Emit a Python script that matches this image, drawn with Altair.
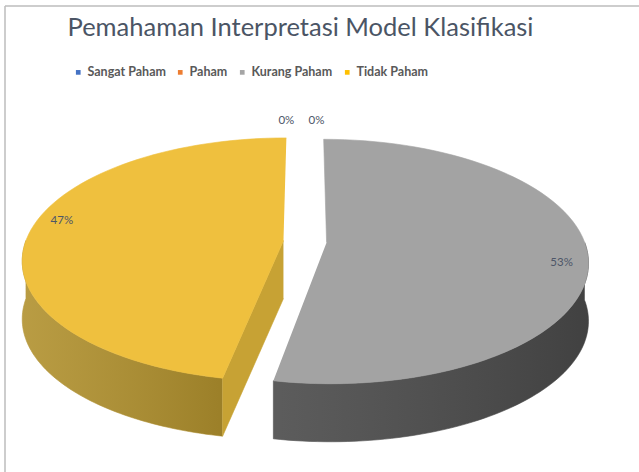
import altair as alt
import pandas as pd

# ---------------- data ----------------
title_text = "Pemahaman Interpretasi Model Klasifikasi"
categories = ["Sangat Paham", "Paham", "Kurang Paham", "Tidak Paham"]
percent_values = [0, 0, 53, 47]

# ---------------- styles ----------------
legend_colors = ["#4472C4", "#ED7D31", "#A5A5A5", "#FFC000"]
top_colors = ["#4472C4", "#ED7D31", "#A3A3A3", "#EFC03E"]
wall_colors = ["#2F5597", "#B45F20", "#4A4A4A", "#B1912E"]
cut_colors = ["#3A63AA", "#C96B26", "#5E5E5E", "#C7A234"]

df = pd.DataFrame({"category": categories, "value": percent_values})

W, H = 639, 472
PAD_TOP = 50
PLOT_H = H - PAD_TOP
PX = 262.0                 # pixels per pie radius
CX, CY = 305.0, 241.5 - PAD_TOP
N = 72                     # arc resolution
EXPLODE = 0.084
PERSP = 0.156
TILT = 0.454
HSCALE = 0.984
DEPTH = 58 / PX
LABEL_SHIFT = 0.09
LABEL_R = 0.9
ZERO_R = 1.12

x_scale = alt.Scale(domain=[-CX / PX, (W - CX) / PX], nice=False, zero=False)
y_scale = alt.Scale(domain=[-(PLOT_H - CY) / PX, CY / PX], nice=False, zero=False)

fill_domain, fill_range = [], []
for face, cols in (("top", top_colors), ("wall", wall_colors), ("cut", cut_colors)):
    for c, col in zip(categories, cols):
        fill_domain.append(f"{face}|{c}")
        fill_range.append(col)
fill_scale = alt.Scale(domain=fill_domain, range=fill_range)

base = (
    alt.Chart(df)
    .transform_window(idx="row_number()")
    .transform_joinaggregate(total="sum(value)")
    .transform_window(cum="sum(value)", frame=[None, 0])
    .transform_calculate(a1="datum.cum / datum.total * 2 * PI")
    .transform_calculate(a0="datum.a1 - datum.value / datum.total * 2 * PI")
    .transform_calculate(mid="(datum.a0 + datum.a1) / 2")
    .transform_calculate(ou=f"{EXPLODE} * sin(datum.mid)")
    .transform_calculate(ov=f"{EXPLODE} * cos(datum.mid)")
)


def project(ch):
    return (
        ch.transform_calculate(u="datum.ou + datum.r * sin(datum.t)")
        .transform_calculate(v="datum.ov + datum.r * cos(datum.t)")
        .transform_calculate(w=f"1 + {PERSP} * datum.v")
        .transform_calculate(X=f"{HSCALE} * datum.u / datum.w")
        .transform_calculate(Y=f"{TILT} * datum.v / datum.w - datum.h")
    )


top = project(
    base.transform_filter("datum.value > 0")
    .transform_calculate(pts=f"sequence(0, {N + 2})")
    .transform_flatten(["pts"])
    .transform_calculate(t=f"datum.pts == 0 ? 0 : datum.a0 + (datum.a1 - datum.a0) * (datum.pts - 1) / {N}")
    .transform_calculate(r="datum.pts == 0 ? 0 : 1")
    .transform_calculate(h="0")
    .transform_calculate(key="'top|' + datum.category")
)

wall = project(
    base.transform_filter("datum.value > 0")
    .transform_calculate(s0="max(datum.a0, PI / 2)")
    .transform_calculate(s1="min(datum.a1, 3 * PI / 2)")
    .transform_filter("datum.s1 > datum.s0 + 0.0001")
    .transform_calculate(pts=f"sequence(0, {2 * N + 2})")
    .transform_flatten(["pts"])
    .transform_calculate(j=f"datum.pts <= {N} ? datum.pts : {2 * N + 1} - datum.pts")
    .transform_calculate(t=f"datum.s0 + (datum.s1 - datum.s0) * datum.j / {N}")
    .transform_calculate(r="1")
    .transform_calculate(h=f"datum.pts <= {N} ? 0 : {DEPTH}")
    .transform_calculate(key="'wall|' + datum.category")
)

cut = project(
    base.transform_filter("datum.value > 0 && (sin(datum.a0) < -0.001 || sin(datum.a1) > 0.001)")
    .transform_calculate(t="sin(datum.a0) < -0.001 ? datum.a0 : datum.a1")
    .transform_calculate(pts="sequence(0, 4)")
    .transform_flatten(["pts"])
    .transform_calculate(r="datum.pts == 1 || datum.pts == 2 ? 1 : 0")
    .transform_calculate(h=f"datum.pts >= 2 ? {DEPTH} : 0")
    .transform_calculate(key="'cut|' + datum.category")
)

xy = dict(
    x=alt.X("X:Q", scale=x_scale, axis=None),
    y=alt.Y("Y:Q", scale=y_scale, axis=None),
    order=alt.Order("pts:Q"),
    detail="category:N",
)


def poly(ch):
    return ch.mark_line(filled=True, strokeWidth=0.6, strokeJoin="round").encode(
        fill=alt.Fill("key:N", scale=fill_scale, legend=None),
        stroke=alt.Stroke("key:N", scale=fill_scale, legend=None),
        **xy,
    )


wall_shade = wall.mark_line(
    filled=True,
    strokeWidth=0,
    fill=alt.Gradient(
        gradient="linear",
        stops=[
            alt.GradientStop(color="rgba(255,255,255,0.10)", offset=0),
            alt.GradientStop(color="rgba(0,0,0,0.12)", offset=1),
        ],
        x1=0, x2=1, y1=0, y2=0,
    ),
).encode(**xy)

labels = (
    project(
        base.transform_calculate(t=f"datum.value == 0 ? datum.mid : datum.mid + {LABEL_SHIFT}")
        .transform_calculate(r=f"datum.value == 0 ? {ZERO_R} : {LABEL_R}")
        .transform_calculate(h="0")
    )
    .transform_calculate(LX="datum.value == 0 ? datum.X + (datum.idx - 1.62) * 0.115 : datum.X")
    .transform_calculate(label="format(datum.value / datum.total, '.0%')")
    .mark_text(font="Lato", fontSize=11.5, color="#4d5668")
    .encode(
        x=alt.X("LX:Q", scale=x_scale, axis=None),
        y=alt.Y("Y:Q", scale=y_scale, axis=None),
        text="label:N",
    )
)

legend_layer = base.mark_square(opacity=0).encode(
    x=alt.value(0),
    y=alt.value(0),
    color=alt.Color(
        "category:N",
        scale=alt.Scale(domain=categories, range=legend_colors),
        legend=alt.Legend(
            title=None, orient="none", legendX=72, legendY=16, direction="horizontal",
            symbolType="square", symbolSize=22, symbolOpacity=1, symbolStrokeWidth=0,
            labelFont="Lato", labelFontSize=12.5, labelFontWeight="bold", labelColor="#595959",
            labelOffset=3, columnPadding=8,
        ),
    ),
)

frame_src = alt.Data(values=[{"k": 1}])
frame_top = alt.Chart(frame_src).mark_rule(color="#BDBDBD", strokeWidth=1.5).encode(
    x=alt.value(5), x2=alt.value(W), y=alt.value(6 - PAD_TOP)
)
frame_left = alt.Chart(frame_src).mark_rule(color="#BDBDBD", strokeWidth=1.5).encode(
    x=alt.value(5), y=alt.value(6 - PAD_TOP), y2=alt.value(PLOT_H)
)

chart = alt.layer(
    frame_top, frame_left, poly(wall), wall_shade, poly(cut), poly(top), labels, legend_layer
).properties(
    width=W,
    height=PLOT_H,
    background="white",
    padding={"left": 0, "top": PAD_TOP, "right": 0, "bottom": 0},
    autosize=alt.AutoSizeParams(type="none"),
    title=alt.TitleParams(
        title_text, font="Lato", fontSize=25.5, fontWeight="normal", color="#4b5565",
        anchor="middle", offset=0, dx=-19, dy=36,
    ),
).configure_view(strokeWidth=0)

chart.save("out.html", embed_options={"renderer": "svg", "actions": False})
